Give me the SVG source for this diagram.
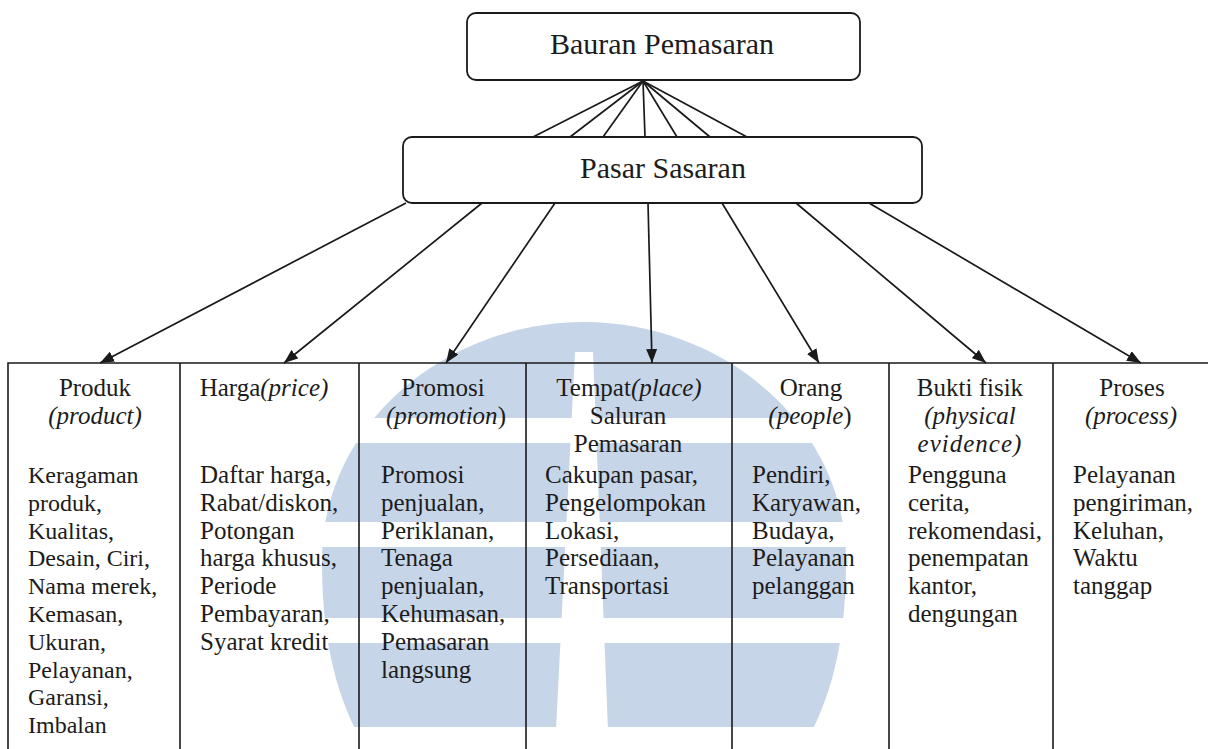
<svg xmlns="http://www.w3.org/2000/svg" width="1208" height="749" viewBox="0 0 1208 749">
  <style>
    text { font-size: 25px; fill: #1c1c1c; }
    .title { font-size: 30px; }
    .small { font-size: 24px; }
    .c { text-anchor: middle; }
    .i { font-style: italic; }
    .box { fill: #ffffff; stroke: #1a1a1a; stroke-width: 1.8; }
    .edge { stroke: #1a1a1a; stroke-width: 1.7; fill: none; }
    .grid { stroke: #1a1a1a; stroke-width: 1.6; fill: none; }
  </style>
  <defs>
    <marker id="arrow" markerUnits="userSpaceOnUse" markerWidth="14" markerHeight="11" refX="14" refY="5.5" orient="auto">
      <path d="M0,0 L14,5.5 L0,11 Z" fill="#1a1a1a"/>
    </marker>
    <clipPath id="wm-clip">
      <rect x="0" y="0" width="1208" height="727"/>
    </clipPath>
    <mask id="wm-mask" maskUnits="userSpaceOnUse" x="0" y="0" width="1208" height="749">
      <rect x="0" y="0" width="1208" height="749" fill="#fff"/>
      <rect x="0" y="418" width="1208" height="25" fill="#000"/>
      <rect x="0" y="522" width="1208" height="25" fill="#000"/>
      <rect x="0" y="618" width="1208" height="25" fill="#000"/>
      <polygon points="575,352 593,352 608,730 556,730" fill="#000"/>
    </mask>
  </defs>

  <rect x="0" y="0" width="1208" height="749" fill="#ffffff"/>

  <!-- striped emblem behind the table -->
  <g id="emblem" clip-path="url(#wm-clip)" mask="url(#wm-mask)">
    <path d="M372,760 C335,700 322,640 322,560 C322,425 445,322 584,322 C723,322 846,425 846,560 C846,640 833,700 796,760 Z" fill="#c6d5e8"/>
  </g>

  <!-- connectors -->
  <g id="connectors">
    <!-- fan from Bauran Pemasaran to Pasar Sasaran -->
    <line class="edge" x1="643" y1="81" x2="533" y2="137"/>
    <line class="edge" x1="643" y1="81" x2="570" y2="137"/>
    <line class="edge" x1="643" y1="81" x2="603" y2="137"/>
    <line class="edge" x1="643" y1="81" x2="645" y2="137"/>
    <line class="edge" x1="643" y1="81" x2="677" y2="137"/>
    <line class="edge" x1="643" y1="81" x2="710" y2="137"/>
    <line class="edge" x1="643" y1="81" x2="747" y2="137"/>
    <!-- arrows from Pasar Sasaran to the seven columns -->
    <line class="edge" x1="406" y1="203" x2="100" y2="363" marker-end="url(#arrow)"/>
    <line class="edge" x1="482" y1="203" x2="284" y2="363" marker-end="url(#arrow)"/>
    <line class="edge" x1="555" y1="203" x2="446" y2="363" marker-end="url(#arrow)"/>
    <line class="edge" x1="648" y1="203" x2="652" y2="363" marker-end="url(#arrow)"/>
    <line class="edge" x1="722" y1="203" x2="819" y2="363" marker-end="url(#arrow)"/>
    <line class="edge" x1="796" y1="203" x2="986" y2="363" marker-end="url(#arrow)"/>
    <line class="edge" x1="869" y1="203" x2="1141" y2="363" marker-end="url(#arrow)"/>
  </g>

  <!-- top nodes -->
  <g id="bauran-pemasaran" font-family="'Liberation Serif', serif">
    <rect class="box" x="467" y="13" width="393" height="67" rx="9"/>
    <text class="title c" x="662" y="54">Bauran Pemasaran</text>
  </g>
  <g id="pasar-sasaran" font-family="'Liberation Serif', serif">
    <rect class="box" x="403" y="137" width="519" height="66" rx="9"/>
    <text class="title c" x="663" y="178">Pasar Sasaran</text>
  </g>

  <!-- table frame -->
  <g id="table-frame">
    <polyline class="grid" points="8,755 8,363 1214,363"/>
    <line class="grid" x1="180" y1="363" x2="180" y2="755"/>
    <line class="grid" x1="359" y1="363" x2="359" y2="755"/>
    <line class="grid" x1="526" y1="363" x2="526" y2="755"/>
    <line class="grid" x1="732" y1="363" x2="732" y2="755"/>
    <line class="grid" x1="889" y1="363" x2="889" y2="755"/>
    <line class="grid" x1="1053" y1="363" x2="1053" y2="755"/>
  </g>

  <g id="col-produk" font-family="'Liberation Serif', serif">
    <text class="c" x="95" y="396">Produk</text>
    <text class="c i" x="95" y="424">(product)</text>
    <text class="small" x="28" y="483">
      <tspan x="28" dy="0">Keragaman</tspan>
      <tspan x="28" dy="27.8">produk,</tspan>
      <tspan x="28" dy="27.8">Kualitas,</tspan>
      <tspan x="28" dy="27.8">Desain, Ciri,</tspan>
      <tspan x="28" dy="27.8">Nama merek,</tspan>
      <tspan x="28" dy="27.8">Kemasan,</tspan>
      <tspan x="28" dy="27.8">Ukuran,</tspan>
      <tspan x="28" dy="27.8">Pelayanan,</tspan>
      <tspan x="28" dy="27.8">Garansi,</tspan>
      <tspan x="28" dy="27.8">Imbalan</tspan>
    </text>
  </g>

  <g id="col-harga" font-family="'Liberation Serif', serif">
    <text class="c" x="264" y="396">Harga<tspan class="i">(price)</tspan></text>
    <text x="200" y="483">
      <tspan x="200" dy="0">Daftar harga,</tspan>
      <tspan x="200" dy="27.8">Rabat/diskon,</tspan>
      <tspan x="200" dy="27.8">Potongan</tspan>
      <tspan x="200" dy="27.8">harga khusus,</tspan>
      <tspan x="200" dy="27.8">Periode</tspan>
      <tspan x="200" dy="27.8">Pembayaran,</tspan>
      <tspan x="200" dy="27.8">Syarat kredit</tspan>
    </text>
  </g>

  <g id="col-promosi" font-family="'Liberation Serif', serif">
    <text class="c" x="443" y="396">Promosi</text>
    <text class="c" x="446" y="424"><tspan class="i">(promotion</tspan>)</text>
    <text x="381" y="483">
      <tspan x="381" dy="0">Promosi</tspan>
      <tspan x="381" dy="27.8">penjualan,</tspan>
      <tspan x="381" dy="27.8">Periklanan,</tspan>
      <tspan x="381" dy="27.8">Tenaga</tspan>
      <tspan x="381" dy="27.8">penjualan,</tspan>
      <tspan x="381" dy="27.8">Kehumasan,</tspan>
      <tspan x="381" dy="27.8">Pemasaran</tspan>
      <tspan x="381" dy="27.8">langsung</tspan>
    </text>
  </g>

  <g id="col-tempat" font-family="'Liberation Serif', serif">
    <text class="c" x="629" y="396">Tempat<tspan class="i">(place)</tspan></text>
    <text class="c" x="628" y="424">Saluran</text>
    <text class="c" x="628" y="452">Pemasaran</text>
    <text x="545" y="483">
      <tspan x="545" dy="0">Cakupan pasar,</tspan>
      <tspan x="545" dy="27.8">Pengelompokan</tspan>
      <tspan x="545" dy="27.8">Lokasi,</tspan>
      <tspan x="545" dy="27.8">Persediaan,</tspan>
      <tspan x="545" dy="27.8">Transportasi</tspan>
    </text>
  </g>

  <g id="col-orang" font-family="'Liberation Serif', serif">
    <text class="c" x="811" y="396">Orang</text>
    <text class="c" x="810" y="424"><tspan class="i">(people</tspan>)</text>
    <text x="752" y="483">
      <tspan x="752" dy="0">Pendiri,</tspan>
      <tspan x="752" dy="27.8">Karyawan,</tspan>
      <tspan x="752" dy="27.8">Budaya,</tspan>
      <tspan x="752" dy="27.8">Pelayanan</tspan>
      <tspan x="752" dy="27.8">pelanggan</tspan>
    </text>
  </g>

  <g id="col-bukti-fisik" font-family="'Liberation Serif', serif">
    <text class="c" x="970" y="396">Bukti fisik</text>
    <text class="c i" x="970" y="424">(physical</text>
    <text class="c i" x="970" y="452" letter-spacing="1">evidence)</text>
    <text x="908" y="483">
      <tspan x="908" dy="0">Pengguna</tspan>
      <tspan x="908" dy="27.8">cerita,</tspan>
      <tspan x="908" dy="27.8">rekomendasi,</tspan>
      <tspan x="908" dy="27.8">penempatan</tspan>
      <tspan x="908" dy="27.8">kantor,</tspan>
      <tspan x="908" dy="27.8">dengungan</tspan>
    </text>
  </g>

  <g id="col-proses" font-family="'Liberation Serif', serif">
    <text class="c" x="1132" y="396">Proses</text>
    <text class="c i" x="1131" y="424">(process)</text>
    <text x="1073" y="483">
      <tspan x="1073" dy="0">Pelayanan</tspan>
      <tspan x="1073" dy="27.8">pengiriman,</tspan>
      <tspan x="1073" dy="27.8">Keluhan,</tspan>
      <tspan x="1073" dy="27.8">Waktu</tspan>
      <tspan x="1073" dy="27.8">tanggap</tspan>
    </text>
  </g>
</svg>
